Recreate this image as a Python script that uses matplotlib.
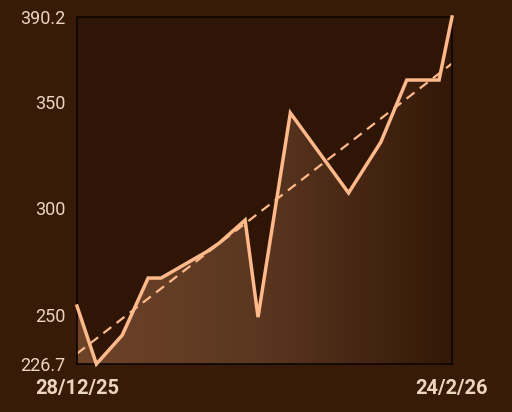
import numpy as np
import pandas as pd
import matplotlib
matplotlib.use('Agg')
import matplotlib.pyplot as plt
import matplotlib.dates as mdates
from matplotlib.colors import LinearSegmentedColormap
from matplotlib.patches import Polygon

# 数据
dates = ['2025-12-28', '2025-12-31', '2026-01-04', '2026-01-08', '2026-01-10',
         '2026-01-17', '2026-01-19', '2026-01-23', '2026-01-25', '2026-01-30',
         '2026-02-08', '2026-02-13', '2026-02-17', '2026-02-22', '2026-02-24']
values = [254.0, 226.7, 240.3, 267.2, 267.2,
          279.5, 283.7, 294.5, 248.8, 345.0,
          307.3, 331.3, 360.5, 360.5, 390.2]
y_ticks = [226.7, 250, 300, 350, 390.2]
y_tick_labels = ['226.7', '250', '300', '350', '390.2']

bg = '#371a08'
ax_bg = '#2f1505'
line_color = '#ffb98a'
text_color = '#ecd5c0'

plt.rcParams['font.family'] = ['Roboto', 'DejaVu Sans']

x = mdates.date2num(pd.to_datetime(dates))
y = np.array(values)

fig = plt.figure(figsize=(5.12, 4.12), dpi=100, facecolor=bg)
ax = fig.add_axes([77 / 512, 1 - 364 / 412, 375 / 512, 347 / 412])
ax.set_facecolor(ax_bg)

ymin, ymax = min(values), max(values)
ax.set_xlim(x[0], x[-1])
ax.set_ylim(ymin, ymax)

# 渐变填充（水平方向）
cmap = LinearSegmentedColormap.from_list('fill', ['#6e4429', '#5a3620', '#331807'])
grad = np.linspace(0, 1, 256).reshape(1, -1)
img = ax.imshow(grad, cmap=cmap, aspect='auto', extent=[x[0], x[-1], ymin, ymax],
                origin='lower', zorder=1)
poly = Polygon(np.column_stack([np.r_[x[0], x, x[-1]], np.r_[ymin, y, ymin]]),
               closed=True, facecolor='none', edgecolor='none')
ax.add_patch(poly)
img.set_clip_path(poly)

# 折线
ax.plot(x, y, color=line_color, lw=2.5, zorder=3, solid_joinstyle='miter', clip_on=False)

# 趋势线
k, b = np.polyfit(x - x[0], y, 1)
ax.plot([x[0], x[-1]], [b, b + k * (x[-1] - x[0])], color=line_color, lw=1.6,
        ls=(0, (4.5, 3)), zorder=2)

ax.set_xticks([x[0], x[-1]])
ax.set_xticklabels(['28/12/25', '24/2/26'], fontsize=14.5, fontweight='bold', color=text_color)
ax.set_yticks(y_ticks)
ax.set_yticklabels(y_tick_labels, fontsize=13, color=text_color)
ax.tick_params(axis='both', length=0)
ax.tick_params(axis='y', pad=8.5)
ax.tick_params(axis='x', pad=11)

for s in ax.spines.values():
    s.set_color('#0d0502')
    s.set_linewidth(1.2)

fig.savefig('out.png', dpi=100, facecolor=bg)
